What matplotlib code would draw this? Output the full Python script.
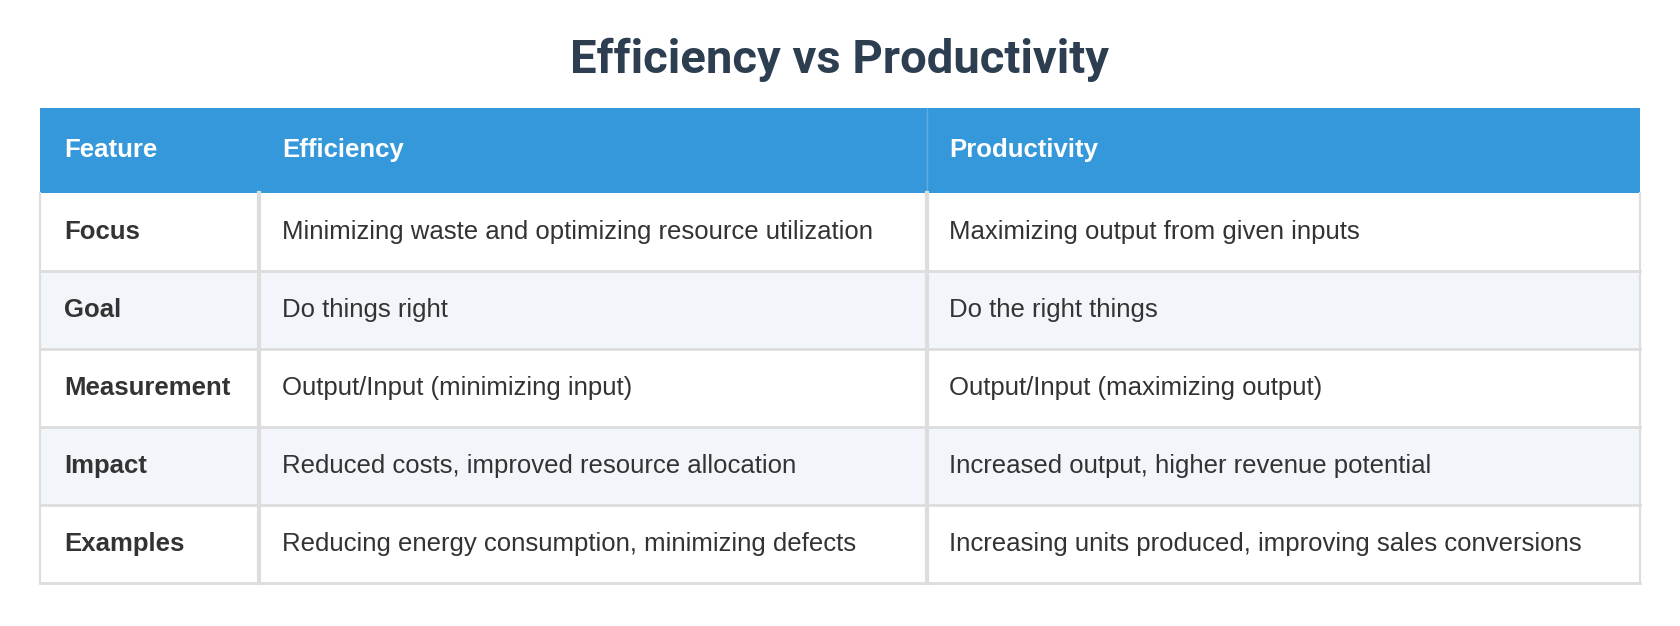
import matplotlib
matplotlib.use("Agg")
import matplotlib.pyplot as plt
from matplotlib.patches import Rectangle

title = "Efficiency vs Productivity"
headers = ["Feature", "Efficiency", "Productivity"]
features = ["Focus", "Goal", "Measurement", "Impact", "Examples"]
efficiency = ["Minimizing waste and optimizing resource utilization", "Do things right",
              "Output/Input (minimizing input)", "Reduced costs, improved resource allocation",
              "Reducing energy consumption, minimizing defects"]
productivity = ["Maximizing output from given inputs", "Do the right things",
                "Output/Input (maximizing output)", "Increased output, higher revenue potential",
                "Increasing units produced, improving sales conversions"]

W, H = 1680, 626
fig = plt.figure(figsize=(W/100, H/100), dpi=100)
ax = fig.add_axes([0, 0, 1, 1])
ax.set_xlim(0, 1); ax.set_ylim(1, 0); ax.axis("off")

left, right = 0.024, 0.976
cols = [left, 0.154, 0.552, right]
text_x = [0.038, 0.168, 0.565]
h_top, h_bot = 0.172, 0.308
nrows = len(features)
row_h = (0.932 - h_bot) / nrows

ax.text(0.5, 0.095, title, ha="center", va="center", fontsize=34, fontweight="bold",
        color="#2c3e50", family="Roboto")

ax.add_patch(Rectangle((left, h_top), right-left, h_bot-h_top, color="#3498db", lw=0))
ax.plot([cols[2], cols[2]], [h_top, h_bot], color="#5dade2", lw=1)
for x, t in zip(text_x, headers):
    ax.text(x, (h_top+h_bot)/2, t, ha="left", va="center", fontsize=18.5, fontweight="bold",
            color="white", family="Liberation Sans")

rows = list(zip(features, efficiency, productivity))
for i, r in enumerate(rows):
    y0 = h_bot + i*row_h
    fc = "#ffffff" if i % 2 == 0 else "#f2f5fa"
    ax.add_patch(Rectangle((left, y0), right-left, row_h, facecolor=fc, edgecolor="none"))
    ax.plot([left, right], [y0+row_h, y0+row_h], color="#dddddd", lw=2)
    for j, (x, t) in enumerate(zip(text_x, r)):
        ax.text(x, y0+row_h/2, t, ha="left", va="center", fontsize=18.5,
                fontweight="bold" if j == 0 else "normal", color="#333333",
                family="Liberation Sans")
y_end = h_bot + nrows*row_h
for x in cols[1:3]:
    ax.plot([x, x], [h_bot, y_end], color="#dddddd", lw=3)
for x in (left, right):
    ax.plot([x, x], [h_bot, y_end], color="#dddddd", lw=1.5)

fig.savefig("out.png", dpi=100, facecolor="white")
